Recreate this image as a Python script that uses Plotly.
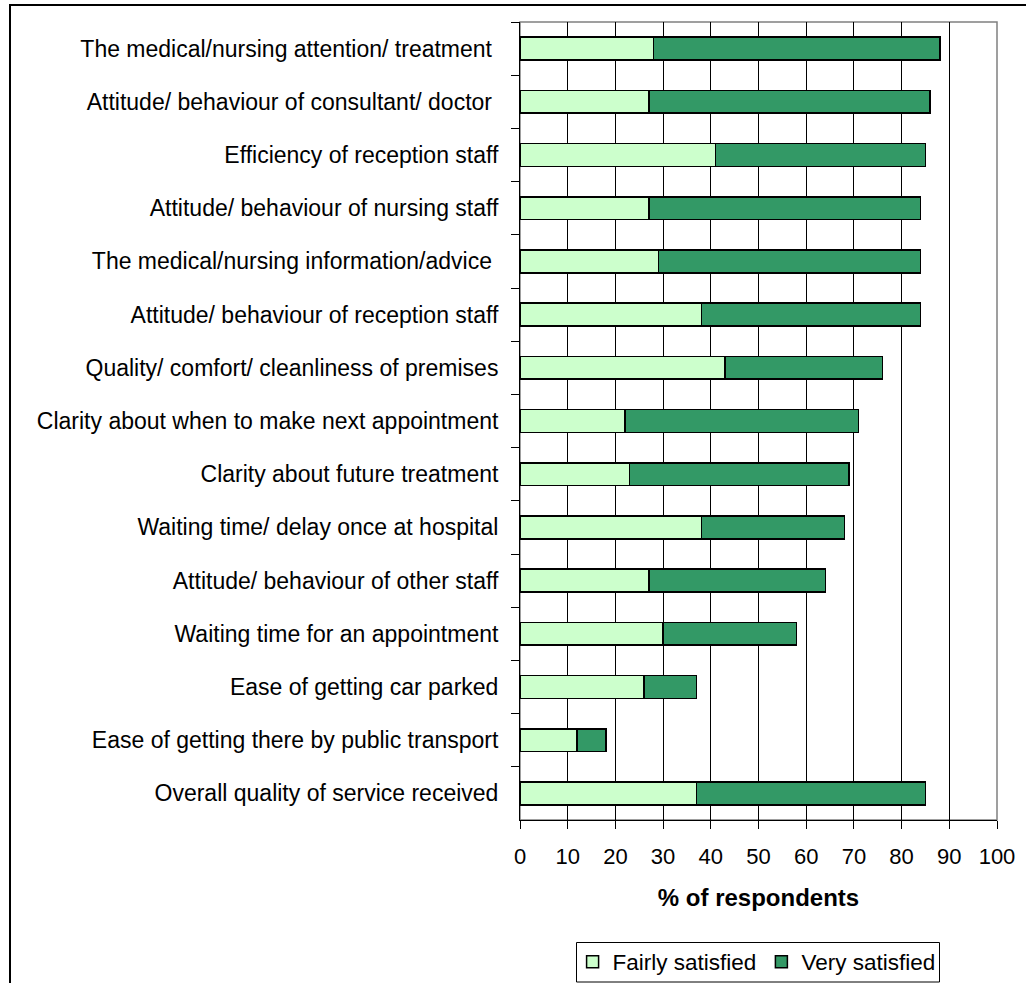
import plotly.graph_objects as go

# Satisfaction survey: share of respondents per service aspect
aspects = [
    "The medical/nursing attention/ treatment\u00a0",
    "Attitude/ behaviour of consultant/ doctor\u00a0",
    "Efficiency of reception staff",
    "Attitude/ behaviour of nursing staff",
    "The medical/nursing information/advice\u00a0",
    "Attitude/ behaviour of reception staff",
    "Quality/ comfort/ cleanliness of premises",
    "Clarity about when to make next appointment",
    "Clarity about future treatment",
    "Waiting time/ delay once at hospital",
    "Attitude/ behaviour of other staff",
    "Waiting time for an appointment",
    "Ease of getting car parked",
    "Ease of getting there by public transport",
    "Overall quality of service received",
]
fairly_satisfied = [28, 27, 41, 27, 29, 38, 43, 22, 23, 38, 27, 30, 26, 12, 37]
very_satisfied = [60, 59, 44, 57, 55, 46, 33, 49, 46, 30, 37, 28, 11, 6, 48]
x_ticks = list(range(0, 101, 10))

FONT = "Liberation Sans, Arial, sans-serif"

fig = go.Figure()
fig.add_trace(go.Bar(
    y=aspects, x=fairly_satisfied, orientation="h", name="Fairly satisfied",
    marker=dict(color="#CCFFCC", line=dict(color="#000000", width=1.5)),
))
fig.add_trace(go.Bar(
    y=aspects, x=very_satisfied, orientation="h", name="Very satisfied",
    marker=dict(color="#339966", line=dict(color="#000000", width=1.5)),
))

W, H = 1026, 983
L, R, T, B = 520, 29, 22, 163
pw, ph = W - L - R, H - T - B


def px_x(p):
    return (p - L) / pw


def px_y(p):
    return (H - B - p) / ph


fig.update_layout(
    width=W, height=H,
    margin=dict(l=L, r=R, t=T, b=B, pad=0, autoexpand=False),
    paper_bgcolor="white", plot_bgcolor="white",
    barmode="stack", bargap=0.57,
    font=dict(family=FONT, size=23, color="black"),
    showlegend=True,
    legend=dict(
        orientation="h", x=0.496, xanchor="center",
        yref="container", y=1 - 962 / H, yanchor="middle",
        bgcolor="rgba(0,0,0,0)", borderwidth=0, font=dict(size=22.5),
        itemclick=False, traceorder="normal",
    ),
    xaxis=dict(
        range=[0, 100], tickvals=x_ticks, ticktext=[str(v) for v in x_ticks],
        showgrid=True, gridcolor="#000000", gridwidth=1,
        showline=True, linecolor="#000000", linewidth=1,
        ticks="outside", ticklen=8, tickcolor="#000000", automargin=False,
        tickfont=dict(size=22), zeroline=False, ticklabelstandoff=9,
        title=dict(text="<b>% of respondents</b>", font=dict(size=24), standoff=20),
    ),
    yaxis=dict(
        categoryorder="array", categoryarray=aspects, autorange="reversed",
        showgrid=False, showline=True, linecolor="#000000", linewidth=1,
        ticks="outside", ticklen=8, tickcolor="#000000", tickson="boundaries",
        tickfont=dict(size=23), ticklabelstandoff=16, automargin=False,
    ),
    shapes=[
        # grey border of the plotting area
        dict(type="rect", xref="paper", yref="paper", x0=0, y0=0, x1=1, y1=1,
             line=dict(color="#808080", width=1.5), layer="below"),
        # outer chart frame (top and left edges)
        dict(type="path", xref="paper", yref="paper",
             path=f"M {px_x(10)} {px_y(990)} L {px_x(10)} {px_y(5)} L {px_x(1030)} {px_y(5)}",
             line=dict(color="#000000", width=2)),
        # tight box around the legend
        dict(type="rect", xref="paper", yref="paper",
             x0=px_x(576.5), x1=px_x(939.5), y0=px_y(982), y1=px_y(942.5),
             line=dict(color="#000000", width=1), fillcolor="white", layer="below"),
    ],
)

fig.write_html("out.html")
